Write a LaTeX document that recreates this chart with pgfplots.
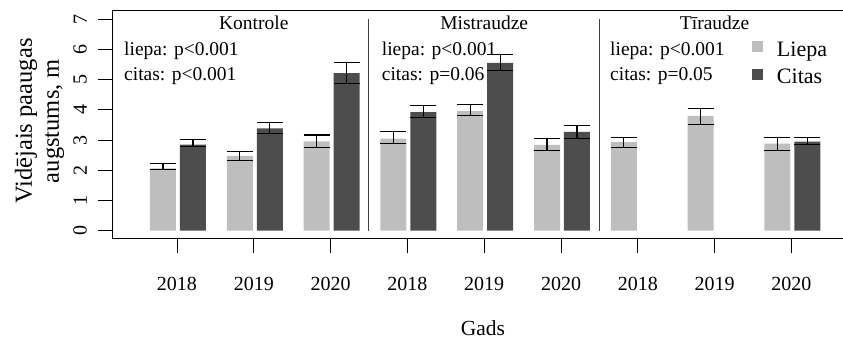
\documentclass[border=0pt]{standalone}
\usepackage{fontspec}
\setmainfont{Liberation Serif}
\usepackage{pgfplots}
\pgfplotsset{compat=1.18}
\definecolor{liepa}{HTML}{BEBEBE}
\definecolor{citas}{HTML}{4D4D4D}
\newcommand\fs{\fontsize{19.5bp}{23bp}\selectfont}
\pgfplotstableread{
x y ep em
-0.182 2.06 0.17 0.04
0.818 2.48 0.15 0.16
1.818 2.96 0.21 0.21
2.818 3.05 0.24 0.16
3.818 3.96 0.23 0.16
4.818 2.84 0.21 0.18
5.818 2.93 0.17 0.18
6.818 3.80 0.26 0.27
7.818 2.88 0.22 0.22
}\liepadata
\pgfplotstableread{
x y ep em
0.208 2.85 0.16 0.05
1.208 3.39 0.19 0.17
2.208 5.22 0.34 0.34
3.208 3.93 0.21 0.19
4.208 5.56 0.27 0.25
5.208 3.27 0.22 0.21
8.208 2.95 0.15 0.11
}\citasdata
\begin{document}
\begin{tikzpicture}
\path[use as bounding box] (0,0) rectangle (843bp,339bp);
\begin{axis}[
  at={(112bp,100bp)}, anchor=south west,
  scale only axis, width=742bp, height=229bp,
  xmin=-0.846, xmax=8.815, ymin=-0.275, ymax=7.308,
  xtick={0,...,8},
  xticklabels={2018,2019,2020,2018,2019,2020,2018,2019,2020},
  ytick={0,...,7},
  xtick pos=bottom, ytick pos=left,
  tick align=outside, major tick length=14bp,
  tick style={black, line width=0.9bp},
  axis line style={black, line width=1bp},
  tick label style={font=\fontsize{20bp}{24bp}\selectfont},
  /pgf/number format/assume math mode=true,
  yticklabel style={rotate=90, anchor=south, inner sep=0pt},
  xticklabel style={anchor=north, inner sep=0pt},
  yticklabel shift=11bp,
  xticklabel shift=24bp,
  ylabel={Vidējais paaugas\\augstums, m},
  ylabel style={at={(axis description cs:-0.0643,0.515)}, anchor=south, align=center, inner sep=0pt, font=\fontsize{24.5bp}{27bp}\selectfont},
  xlabel={Gads},
  xlabel style={at={(axis description cs:0.5,0)}, anchor=north, yshift=-81.5bp, inner sep=0pt, font=\fontsize{21.5bp}{25bp}\selectfont},
  legend cell align=left,
  legend style={draw=none, fill=none, at={(rel axis cs:0.8625,0.8821)}, anchor=north west,
    inner sep=0pt, outer sep=0pt, row sep=8.5bp, column sep=14bp,
    nodes={inner sep=0pt, font=\fontsize{22bp}{26bp}\selectfont, text height=19bp, text depth=0bp}},
  clip=false,
]
\addplot[ybar, bar width=26bp, bar shift=0pt, fill=liepa, draw=none,
  legend image code/.code={\fill[liepa] (0bp,-5.5bp) rectangle (11bp,5.5bp);},
  error bars/.cd, y dir=both, y explicit,
  error bar style={black, line width=1.1bp},
  error mark options={rotate=90, black, line width=1.1bp, mark size=13bp}]
  table[x=x, y=y, y error plus=ep, y error minus=em] {\liepadata};
\addlegendentry{Liepa}
\addplot[ybar, bar width=26bp, bar shift=0pt, fill=citas, draw=none,
  legend image code/.code={\fill[citas] (0bp,-5.5bp) rectangle (11bp,5.5bp);},
  error bars/.cd, y dir=both, y explicit,
  error bar style={black, line width=1.1bp},
  error mark options={rotate=90, black, line width=1.1bp, mark size=13bp}]
  table[x=x, y=y, y error plus=ep, y error minus=em] {\citasdata};
\addlegendentry{Citas}
\addplot[black!75, line width=1bp, forget plot] coordinates {(2.5,0) (2.5,7)};
\addplot[black!75, line width=1bp, forget plot] coordinates {(5.5,0) (5.5,7)};
\node[anchor=base, inner sep=0pt, font=\fs] at (axis cs:1,6.67) {Kontrole};
\node[anchor=base, inner sep=0pt, font=\fs] at (axis cs:4,6.67) {Mistraudze};
\node[anchor=base, inner sep=0pt, font=\fs] at (axis cs:7,6.67) {Tīraudze};
\node[anchor=base west, inner sep=0pt, font=\fs] at (axis cs:-0.690,5.785) {liepa: p<0.001};
\node[anchor=base west, inner sep=0pt, font=\fs] at (axis cs:-0.690,4.957) {citas: p<0.001};
\node[anchor=base west, inner sep=0pt, font=\fs] at (axis cs:2.665,5.785) {liepa: p<0.001};
\node[anchor=base west, inner sep=0pt, font=\fs] at (axis cs:2.665,4.957) {citas: p=0.06};
\node[anchor=base west, inner sep=0pt, font=\fs] at (axis cs:5.638,5.785) {liepa: p<0.001};
\node[anchor=base west, inner sep=0pt, font=\fs] at (axis cs:5.638,4.957) {citas: p=0.05};
\end{axis}
\end{tikzpicture}
\end{document}
